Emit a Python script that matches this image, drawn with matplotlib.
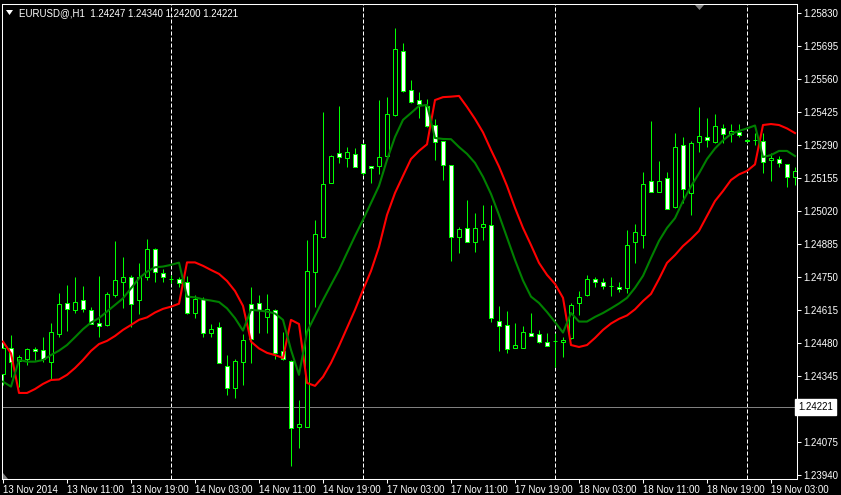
import matplotlib
matplotlib.use('Agg')
import matplotlib.pyplot as plt
from matplotlib.patches import Polygon
import matplotlib.transforms as mtransforms
import numpy as np

plt.rcParams['font.family'] = ['Liberation Sans', 'DejaVu Sans']

symbol_title = "EURUSD@,H1  1.24247 1.24340 1.24200 1.24221"

tick_bars = [0, 8, 16, 24, 32, 40, 48, 56, 64, 72, 80, 88, 96]
tick_labels = ["13 Nov 2014", "13 Nov 11:00", "13 Nov 19:00", "14 Nov 03:00",
               "14 Nov 11:00", "14 Nov 19:00", "17 Nov 03:00", "17 Nov 11:00",
               "17 Nov 19:00", "18 Nov 03:00", "18 Nov 11:00", "18 Nov 19:00",
               "19 Nov 03:00"]
separators = [21, 45, 69, 93]

price_ticks = [1.25830, 1.25695, 1.25560, 1.25425, 1.25290, 1.25155, 1.25020,
               1.24885, 1.24750, 1.24615, 1.24480, 1.24345, 1.24075, 1.23940]
bid_price = 1.24221

opens = [1.24354, 1.24462, 1.24406, 1.24416, 1.24455, 1.24453, 1.24405, 1.24518, 1.24646, 1.24616,
         1.24656, 1.24615, 1.24565, 1.24556, 1.24677, 1.24730, 1.24752, 1.24656, 1.24750, 1.24865,
         1.24767, 1.24744, 1.24744, 1.24729, 1.24603, 1.24663, 1.24521, 1.24545, 1.24388, 1.24296,
         1.24405, 1.24640, 1.24643, 1.24587, 1.24615, 1.24450, 1.24409, 1.24137, 1.24137, 1.24773,
         1.24914, 1.25137, 1.25257, 1.25237, 1.25253, 1.25294, 1.25205, 1.25205, 1.25248, 1.25414,
         1.25677, 1.25516, 1.25474, 1.25451, 1.25372, 1.25309, 1.25208, 1.24914, 1.24951, 1.24893,
         1.24955, 1.24963, 1.24573, 1.24555, 1.24460, 1.24462, 1.24521, 1.24517, 1.24487, 1.24491,
         1.24484, 1.24501, 1.24644, 1.24677, 1.24742, 1.24732, 1.24716, 1.24712, 1.24705, 1.24893,
         1.24922, 1.25143, 1.25098, 1.25155, 1.25039, 1.25290, 1.25094, 1.25302, 1.25322, 1.25305,
         1.25360, 1.25335, 1.25346, 1.25311, 1.25313, 1.25309, 1.25229, 1.25233, 1.25212, 1.25162]
highs = [1.24481, 1.24514, 1.24432, 1.24461, 1.24463, 1.24505, 1.24562, 1.24687, 1.24719, 1.24752,
         1.24715, 1.24628, 1.24755, 1.24690, 1.24900, 1.24832, 1.24760, 1.24807, 1.24906, 1.24869,
         1.24783, 1.24759, 1.24752, 1.24755, 1.24677, 1.24668, 1.24559, 1.24568, 1.24432, 1.24415,
         1.24518, 1.24709, 1.24677, 1.24681, 1.24622, 1.24527, 1.24412, 1.24248, 1.24903, 1.24985,
         1.25427, 1.25250, 1.25451, 1.25282, 1.25278, 1.25294, 1.25206, 1.25475, 1.25486, 1.25769,
         1.25710, 1.25557, 1.25507, 1.25479, 1.25396, 1.25309, 1.25208, 1.24957, 1.25066, 1.25015,
         1.25045, 1.25045, 1.24631, 1.24612, 1.24562, 1.24551, 1.24604, 1.24534, 1.24521, 1.24523,
         1.24507, 1.24644, 1.24694, 1.24759, 1.24750, 1.24746, 1.24750, 1.24732, 1.24943, 1.24968,
         1.25180, 1.25389, 1.25226, 1.25181, 1.25342, 1.25325, 1.25308, 1.25448, 1.25402, 1.25418,
         1.25376, 1.25376, 1.25376, 1.25315, 1.25339, 1.25339, 1.25258, 1.25246, 1.25212, 1.25203]
lows = [1.24309, 1.24343, 1.24303, 1.24391, 1.24412, 1.24405, 1.24330, 1.24507, 1.24532, 1.24604,
        1.24608, 1.24558, 1.24505, 1.24552, 1.24669, 1.24626, 1.24548, 1.24601, 1.24739, 1.24732,
        1.24732, 1.24725, 1.24711, 1.24600, 1.24583, 1.24505, 1.24505, 1.24398, 1.24267, 1.24258,
        1.24310, 1.24400, 1.24523, 1.24521, 1.24415, 1.24412, 1.23978, 1.24050, 1.24137, 1.24627,
        1.24910, 1.25135, 1.25219, 1.25200, 1.25200, 1.25169, 1.25135, 1.25173, 1.25248, 1.25411,
        1.25509, 1.25464, 1.25403, 1.25366, 1.25230, 1.25148, 1.24818, 1.24848, 1.24893, 1.24855,
        1.24903, 1.24569, 1.24450, 1.24442, 1.24460, 1.24460, 1.24510, 1.24482, 1.24470, 1.24384,
        1.24423, 1.24497, 1.24596, 1.24675, 1.24709, 1.24703, 1.24674, 1.24691, 1.24685, 1.24807,
        1.24869, 1.25098, 1.25098, 1.25028, 1.25035, 1.25053, 1.25005, 1.25261, 1.25284, 1.25298,
        1.25298, 1.25305, 1.25325, 1.25303, 1.25291, 1.25178, 1.25145, 1.25200, 1.25118, 1.25128]
closes = [1.24461, 1.24405, 1.24423, 1.24455, 1.24447, 1.24415, 1.24525, 1.24640, 1.24622, 1.24651,
          1.24622, 1.24561, 1.24552, 1.24683, 1.24739, 1.24750, 1.24641, 1.24752, 1.24865, 1.24772,
          1.24750, 1.24742, 1.24727, 1.24603, 1.24660, 1.24521, 1.24537, 1.24398, 1.24296, 1.24409,
          1.24494, 1.24496, 1.24618, 1.24619, 1.24442, 1.24415, 1.24132, 1.24150, 1.24776, 1.24928,
          1.25132, 1.25246, 1.25241, 1.25261, 1.25203, 1.25176, 1.25196, 1.25241, 1.25417, 1.25683,
          1.25513, 1.25468, 1.25458, 1.25369, 1.25302, 1.25211, 1.24916, 1.24947, 1.24893, 1.24951,
          1.24968, 1.24583, 1.24551, 1.24455, 1.24473, 1.24525, 1.24510, 1.24487, 1.24470, 1.24489,
          1.24493, 1.24637, 1.24671, 1.24742, 1.24730, 1.24715, 1.24714, 1.24701, 1.24881, 1.24934,
          1.25131, 1.25098, 1.25143, 1.25028, 1.25282, 1.25110, 1.25298, 1.25328, 1.25310, 1.25369,
          1.25335, 1.25347, 1.25332, 1.25309, 1.25313, 1.25221, 1.25237, 1.25217, 1.25162, 1.25186]

green_line = [1.24323, 1.24303, 1.24412, 1.24405, 1.24405, 1.24412, 1.24432, 1.24450, 1.24473, 1.24505,
              1.24538, 1.24565, 1.24583, 1.24610, 1.24637, 1.24664, 1.24705, 1.24746, 1.24773, 1.24791,
              1.24794, 1.24801, 1.24810, 1.24671, 1.24668, 1.24660, 1.24655, 1.24649, 1.24623, 1.24583,
              1.24532, 1.24617, 1.24614, 1.24610, 1.24602, 1.24576, 1.24453, 1.24351, 1.24527, 1.24592,
              1.24657, 1.24719, 1.24780, 1.24850, 1.24919, 1.24985, 1.25054, 1.25124, 1.25230, 1.25324,
              1.25394, 1.25422, 1.25451, 1.25455, 1.25320, 1.25316, 1.25315, 1.25283, 1.25255, 1.25218,
              1.25161, 1.25091, 1.25005, 1.24913, 1.24821, 1.24737, 1.24671, 1.24645, 1.24608, 1.24567,
              1.24524, 1.24604, 1.24569, 1.24569, 1.24588, 1.24604, 1.24623, 1.24643, 1.24666, 1.24707,
              1.24756, 1.24829, 1.24899, 1.24952, 1.24992, 1.25062, 1.25122, 1.25175, 1.25234, 1.25277,
              1.25310, 1.25336, 1.25349, 1.25359, 1.25371, 1.25242, 1.25250, 1.25267, 1.25267, 1.25246]
red_line = [1.24487, 1.24439, 1.24277, 1.24277, 1.24293, 1.24314, 1.24330, 1.24332, 1.24351, 1.24379,
            1.24412, 1.24449, 1.24477, 1.24490, 1.24510, 1.24535, 1.24555, 1.24576, 1.24586, 1.24606,
            1.24621, 1.24630, 1.24642, 1.24811, 1.24811, 1.24797, 1.24780, 1.24764, 1.24735, 1.24694,
            1.24633, 1.24487, 1.24459, 1.24441, 1.24432, 1.24420, 1.24576, 1.24559, 1.24318, 1.24306,
            1.24343, 1.24400, 1.24469, 1.24543, 1.24617, 1.24698, 1.24776, 1.24874, 1.25005, 1.25095,
            1.25165, 1.25234, 1.25267, 1.25294, 1.25475, 1.25487, 1.25489, 1.25492, 1.25447, 1.25398,
            1.25343, 1.25271, 1.25203, 1.25124, 1.25034, 1.24952, 1.24882, 1.24809, 1.24760, 1.24723,
            1.24666, 1.24473, 1.24465, 1.24473, 1.24502, 1.24535, 1.24561, 1.24580, 1.24594, 1.24619,
            1.24653, 1.24682, 1.24743, 1.24809, 1.24841, 1.24878, 1.24907, 1.24940, 1.25001, 1.25062,
            1.25103, 1.25148, 1.25171, 1.25185, 1.25212, 1.25373, 1.25377, 1.25373, 1.25359, 1.25340]

W, H = 841, 495
fig = plt.figure(figsize=(W / 100, H / 100), dpi=100, facecolor='black')
ax = fig.add_axes([2 / W, 16 / H, 795 / W, 475 / H])
ax.set_facecolor('black')

o = np.array(opens); c = np.array(closes)
hi = np.array(highs); lo = np.array(lows)
x = np.arange(len(o))

# wicks
ax.vlines(x, lo, hi, color='#00FF00', lw=0.72, zorder=2, snap=True)
# bodies
bottoms = np.minimum(o, c)
heights = np.abs(c - o)
fills = np.where(c >= o, 'black', 'white')
bars = ax.bar(x, heights, width=0.55, bottom=bottoms, color=fills, edgecolor='#00FF00',
              linewidth=0.72, zorder=3)
for b in bars:
    b.set_snap(True)

# indicator lines
ax.plot(x, red_line, color='#FF0000', lw=1.5, zorder=4, solid_joinstyle='round')
ax.plot(x, green_line, color='#008000', lw=1.5, zorder=4, solid_joinstyle='round')

# period separators
for s in separators:
    ax.axvline(s, color='white', lw=0.72, linestyle=(0, (4, 2)), zorder=1, snap=True)

# bid line
ax.axhline(bid_price, color='#808080', lw=0.72, zorder=1, snap=True)

ax.set_xlim(-0.125, 99.25)
ax.set_ylim(1.23925, 1.25868)

for sp in ax.spines.values():
    sp.set_color('white')
    sp.set_linewidth(0.75)

ax.set_xticks(tick_bars)
ax.set_xticklabels(tick_labels)
ax.yaxis.tick_right()
ax.set_yticks(price_ticks)
ax.set_yticklabels([f"{p:.5f}" for p in price_ticks])
ax.tick_params(axis='both', colors='white', labelsize=7, length=3, width=0.75, pad=1.2)
for lab in ax.get_xticklabels():
    lab.set_ha('left')

# bid price label
trans = mtransforms.blended_transform_factory(ax.transAxes, ax.transData)
ax.text(1.0015, bid_price, f"{bid_price:.5f}", transform=trans, ha='left', va='center',
        color='black', fontsize=7, zorder=10, clip_on=False,
        bbox=dict(facecolor='white', edgecolor='white', boxstyle='square,pad=0.3'))

# title
fig.text(19 / W, 1 - 13 / H, symbol_title, color='white', fontsize=7, ha='left', va='center')
fig.patches.append(Polygon([[6 / W, 1 - 10 / H], [13 / W, 1 - 10 / H], [9.5 / W, 1 - 15 / H]],
                           closed=True, transform=fig.transFigure, facecolor='white', edgecolor='none'))
# chart shift marker
fig.patches.append(Polygon([[695 / W, 1 - 5 / H], [704 / W, 1 - 5 / H], [699.5 / W, 1 - 10 / H]],
                           closed=True, transform=fig.transFigure, facecolor='#808080', edgecolor='none'))
# scroll marker bottom-left
fig.patches.append(Polygon([[3 / W, 1 - 479 / H], [3 / W, 1 - 473 / H], [8 / W, 1 - 479 / H]],
                           closed=True, transform=fig.transFigure, facecolor='#808080', edgecolor='none'))

fig.savefig('out.png', dpi=100, facecolor='black')
